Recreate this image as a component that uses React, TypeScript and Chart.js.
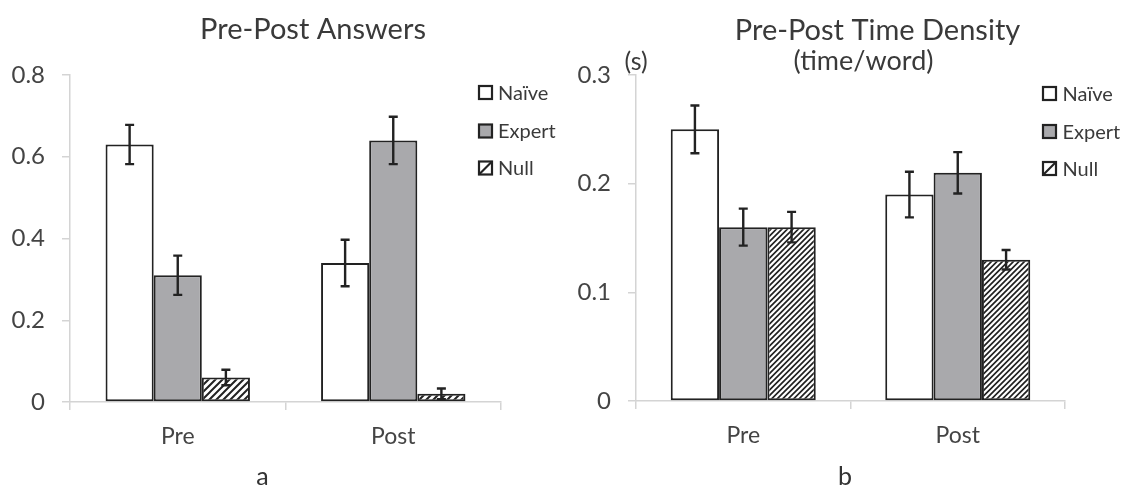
import React, { useEffect, useRef } from "react";
import { Chart, registerables } from "chart.js";

Chart.register(...registerables);

// Shared categories and series
const categories = ["Pre", "Post"];
const seriesNames = ["Naïve", "Expert", "Null"];

// Panel a: Pre-Post Answers
const answersNaive = [0.63, 0.34];
const answersExpert = [0.31, 0.64];
const answersNull = [0.06, 0.02];
const answersNaiveErr = [0.048, 0.057];
const answersExpertErr = [0.048, 0.058];
const answersNullErr = [0.019, 0.013];
const answersTicks = [0, 0.2, 0.4, 0.6, 0.8];

// Panel b: Pre-Post Time Density (time/word)
const densityNaive = [0.25, 0.19];
const densityExpert = [0.16, 0.21];
const densityNull = [0.16, 0.13];
const densityNaiveErr = [0.022, 0.021];
const densityExpertErr = [0.017, 0.019];
const densityNullErr = [0.014, 0.009];
const densityTicks = [0, 0.1, 0.2, 0.3];

const FONT = "Lato, 'Open Sans', sans-serif";
const INK = "#222222";
const GRAY = "#a9a9ac";
const AXIS = "#d4d4d4";
const TICK = "#444444";
const TEXT = "#3a3a3a";

type TextItem = { text: string; x: number; y: number; size: number; color?: string };

type PanelSpec = {
  left: number;
  width: number;
  height: number;
  area: { left: number; right: number; top: number; bottom: number };
  categoryPct: number;
  series: number[][];
  errors: number[][];
  ticks: number[];
  hatch: number;
  hatchWidth: number;
  texts: TextItem[];
  legend: { boxLeft: number; textLeft: number; rows: number[] };
};

const panels: PanelSpec[] = [
  {
    left: 0,
    width: 560,
    height: 487,
    area: { left: 70, right: 501, top: 75, bottom: 402 },
    categoryPct: 0.67,
    series: [answersNaive, answersExpert, answersNull],
    errors: [answersNaiveErr, answersExpertErr, answersNullErr],
    ticks: answersTicks,
    hatch: 7,
    hatchWidth: 2,
    texts: [
      { text: "Pre-Post Answers", x: 313, y: 38.5, size: 29 },
      { text: "a", x: 262.5, y: 485, size: 25, color: "#333333" },
    ],
    legend: { boxLeft: 479, textLeft: 498, rows: [92.5, 131, 168] },
  },
  {
    left: 560,
    width: 565,
    height: 487,
    area: { left: 76, right: 505, top: 75, bottom: 401 },
    categoryPct: 0.676,
    series: [densityNaive, densityExpert, densityNull],
    errors: [densityNaiveErr, densityExpertErr, densityNullErr],
    ticks: densityTicks,
    hatch: 5.5,
    hatchWidth: 1.7,
    texts: [
      { text: "Pre-Post Time Density", x: 317.5, y: 40, size: 29 },
      { text: "(time/word)", x: 303.5, y: 70, size: 27 },
      { text: "(s)", x: 76, y: 70, size: 25 },
      { text: "b", x: 285, y: 485, size: 25, color: "#333333" },
    ],
    legend: { boxLeft: 483, textLeft: 502.5, rows: [93.5, 131.5, 168.5] },
  },
];

function makeHatch(period: number, lineWidth: number): CanvasPattern | string {
  const c = document.createElement("canvas");
  const n = Math.round(period * 2);
  c.width = n;
  c.height = n;
  const g = c.getContext("2d");
  if (!g) return "#ffffff";
  g.fillStyle = "#ffffff";
  g.fillRect(0, 0, n, n);
  g.strokeStyle = INK;
  g.lineWidth = lineWidth;
  g.beginPath();
  // rising diagonals, tiled seamlessly over an n x n cell
  for (let k = -2; k <= 2; k++) {
    const off = (k * n) / 2;
    g.moveTo(off - 1, n + 1);
    g.lineTo(off + n + 1, -1);
  }
  g.stroke();
  return g.createPattern(c, "repeat") || "#ffffff";
}

function Panel({ spec }: { spec: PanelSpec }) {
  const ref = useRef<HTMLCanvasElement>(null);

  useEffect(() => {
    const canvas = ref.current;
    if (!canvas) return;
    const hatch = makeHatch(spec.hatch, spec.hatchWidth);
    const fills: (string | CanvasPattern)[] = ["#ffffff", GRAY, hatch];

    const errorBars = {
      id: "errorBars",
      afterDatasetsDraw(chart: any) {
        const ctx = chart.ctx as CanvasRenderingContext2D;
        const y = chart.scales.y;
        ctx.save();
        ctx.strokeStyle = INK;
        ctx.lineWidth = 2.4;
        chart.data.datasets.forEach((ds: any, i: number) => {
          const meta = chart.getDatasetMeta(i);
          meta.data.forEach((bar: any, j: number) => {
            const v = ds.data[j] as number;
            const e = spec.errors[i][j];
            const top = y.getPixelForValue(v + e);
            const bot = y.getPixelForValue(Math.max(0, v - e));
            const x = bar.x;
            ctx.beginPath();
            ctx.moveTo(x, top);
            ctx.lineTo(x, bot);
            ctx.moveTo(x - 4.5, top);
            ctx.lineTo(x + 4.5, top);
            ctx.moveTo(x - 4.5, bot);
            ctx.lineTo(x + 4.5, bot);
            ctx.stroke();
          });
        });
        ctx.restore();
      },
    };

    const decorations = {
      id: "decorations",
      afterDraw(chart: any) {
        const ctx = chart.ctx as CanvasRenderingContext2D;
        ctx.save();
        ctx.textBaseline = "alphabetic";
        ctx.textAlign = "center";
        spec.texts.forEach((t) => {
          ctx.font = `${t.size}px ${FONT}`;
          ctx.fillStyle = t.color || TEXT;
          ctx.fillText(t.text, t.x, t.y);
        });

        // legend: outlined swatch + label per series
        const box = 13;
        seriesNames.forEach((name, i) => {
          const cy = spec.legend.rows[i];
          const bx = spec.legend.boxLeft;
          const by = cy - box / 2;
          ctx.fillStyle = i === 1 ? GRAY : "#ffffff";
          ctx.fillRect(bx, by, box, box);
          ctx.strokeStyle = INK;
          ctx.lineWidth = 2.2;
          if (i === 2) {
            ctx.beginPath();
            ctx.moveTo(bx, by + box);
            ctx.lineTo(bx + box, by);
            ctx.stroke();
          }
          ctx.strokeRect(bx, by, box, box);
          ctx.font = `20px ${FONT}`;
          ctx.fillStyle = TEXT;
          ctx.textAlign = "left";
          ctx.fillText(name, spec.legend.textLeft, cy + 7);
        });
        ctx.restore();
      },
    };

    const chart = new Chart(canvas, {
      type: "bar",
      data: {
        labels: categories,
        datasets: seriesNames.map((name, i) => ({
          label: name,
          data: spec.series[i],
          backgroundColor: fills[i] as any,
          borderColor: INK,
          borderWidth: 2,
          borderSkipped: false,
          barPercentage: 1,
          categoryPercentage: spec.categoryPct,
        })),
      },
      options: {
        responsive: false,
        animation: false,
        devicePixelRatio: 1,
        layout: {
          padding: {
            left: 0,
            top: spec.area.top,
            right: spec.width - spec.area.right,
            bottom: 0,
          },
        },
        plugins: {
          legend: { display: false },
          tooltip: { enabled: false },
          title: { display: false },
        },
        scales: {
          x: {
            grid: {
              display: true,
              drawOnChartArea: false,
              drawTicks: true,
              tickLength: 8,
              color: AXIS,
              lineWidth: 1.5,
              offset: true,
            },
            border: { display: true, color: AXIS, width: 1.5 },
            ticks: { color: TICK, font: { family: FONT, size: 23 }, padding: 13 },
            afterFit: (s: any) => {
              s.height = spec.height - spec.area.bottom;
            },
          },
          y: {
            min: 0,
            max: spec.ticks[spec.ticks.length - 1],
            grid: {
              drawOnChartArea: false,
              drawTicks: true,
              tickLength: 8,
              color: AXIS,
              lineWidth: 1.5,
            },
            border: { display: true, color: AXIS, width: 1.5 },
            ticks: {
              color: TICK,
              font: { family: FONT, size: 24 },
              padding: 17,
              callback: (v: any) => String(v),
            },
            afterBuildTicks: (s: any) => {
              s.ticks = spec.ticks.map((v) => ({ value: v }));
            },
            afterFit: (s: any) => {
              s.width = spec.area.left;
            },
          },
        },
      },
      plugins: [errorBars, decorations],
    });

    return () => chart.destroy();
  }, [spec]);

  return (
    <canvas
      ref={ref}
      width={spec.width}
      height={spec.height}
      style={{ position: "absolute", left: spec.left, top: 0, width: spec.width, height: spec.height }}
    />
  );
}

export default function App() {
  return (
    <div
      style={{
        position: "absolute",
        left: 0,
        top: 0,
        width: 1125,
        height: 487,
        background: "#ffffff",
        overflow: "hidden",
      }}
    >
      {panels.map((p, i) => (
        <Panel key={i} spec={p} />
      ))}
    </div>
  );
}
